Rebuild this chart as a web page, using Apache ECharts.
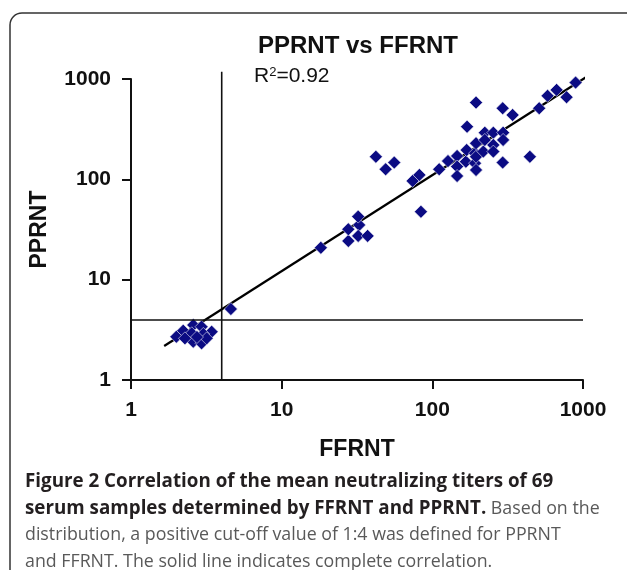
<!DOCTYPE html>
<html><head><meta charset="utf-8">
<script src="https://cdn.jsdelivr.net/npm/echarts@6/dist/echarts.min.js"></script>
<style>html,body{margin:0;padding:0;background:#fff}#c{width:627px;height:570px}</style>
</head><body><div id="c"></div>
<script>
const chartTitle = 'PPRNT vs FFRNT';
const xName = 'FFRNT';
const yName = 'PPRNT';
const r2Text = '0.92';
const cutoff = 4;
const cutoffLineTop = 1180;
const ffrnt = [2.0,2.22,2.59,2.53,2.94,3.43,3.02,2.59,2.94,3.18,2.28,2.74,4.6,
  18.2,27.7,27.7,32.7,32.2,32.2,37.2,42.2,49,55.9,74,82,84,
  111,127,146,146,146,167,169,170,192,192,195,195,195,195,218,223,223,254,254,254,295,295,293,341,293,444,512,582,668,778,893];
const pprnt = [2.7,3.1,3.53,2.92,3.4,3.03,2.88,2.41,2.32,2.6,2.6,2.68,5.1,
  20.8,24.3,31.8,35.1,42.5,27.3,27.3,168,126,147,96.4,110.7,47.6,
  126,152,171,134,108,150,196,335,182,145,229,124,168,582,189,292,247,292,220,189,292,247,147,438,511,168,511,679,779,659,921];
const fitX = [1.66, 1110];
const fitY = [2.18, 1100];
const captionLines = [
  [['b','Figure 2 Correlation of the mean neutralizing titers of 69']],
  [['b','serum samples determined by FFRNT and PPRNT.'],['r',' Based on the']],
  [['r','distribution, a positive cut-off value of 1:4 was defined for PPRNT']],
  [['r','and FFRNT. The solid line indicates complete correlation.']]
];

const pts = ffrnt.map((x,i)=>[x,pprnt[i]]);
const fit = fitX.map((x,i)=>[x,fitY[i]]);
const axisFont = {fontFamily:'Liberation Sans, Arial, sans-serif', fontWeight:'bold', fontSize:21, color:'#111'};
const esc = s => s.replace(/[{}|]/g,'');
const captionGraphics = captionLines.map((parts,i)=>({
  type:'text', left:25, top:472 + i*27,
  style:{
    text: parts.map(p=>'{'+p[0]+'|'+esc(p[1])+'}').join(''),
    rich:{
      b:{fontFamily:'Open Sans, sans-serif', fontWeight:'bold', fontSize:18.8, fill:'#231f20', color:'#231f20'},
      r:{fontFamily:'Open Sans, sans-serif', fontWeight:'normal', fontSize:17.8, fill:'#595959', color:'#595959'}
    }
  }
}));

const chart = echarts.init(document.getElementById('c'));
chart.setOption({
  animation:false,
  backgroundColor:'#fff',
  title:[
    {text:chartTitle, left:353, top:29, textAlign:'center',
     textStyle:{fontFamily:'Liberation Sans, Arial, sans-serif', fontWeight:'bold', fontSize:24, color:'#111'}},
    {text:'R{s|2}=' + r2Text, left:249, top:61,
     textStyle:{fontFamily:'Liberation Sans, Arial, sans-serif', fontWeight:'normal', fontSize:21, color:'#111',
       rich:{s:{fontSize:13, verticalAlign:'top', lineHeight:13, padding:[0,0,11,0], fontFamily:'Liberation Sans, Arial, sans-serif'}}}}
  ],
  graphic:[
    {type:'rect', shape:{x:10, y:13, width:700, height:700, r:12}, style:{fill:'none', stroke:'#333', lineWidth:1.5}, z:-1}
  ].concat(captionGraphics),
  grid:{left:131, right:44, top:79, bottom:190},
  xAxis:{type:'log', logBase:10, min:1, max:1000,
    name:xName, nameLocation:'middle', nameGap:58, nameTextStyle:Object.assign({}, axisFont, {fontSize:23}),
    axisLine:{lineStyle:{color:'#111', width:2}},
    axisTick:{show:true, length:9, lineStyle:{color:'#111', width:2}},
    minorTick:{show:false}, splitLine:{show:false},
    axisLabel:Object.assign({margin:20, formatter:v=>String(v)}, axisFont)},
  yAxis:{type:'log', logBase:10, min:1, max:1000,
    name:yName, nameLocation:'middle', nameGap:80, nameRotate:90, nameTextStyle:Object.assign({}, axisFont, {fontSize:23}),
    axisLine:{lineStyle:{color:'#111', width:2}},
    axisTick:{show:true, length:9, lineStyle:{color:'#111', width:2}},
    minorTick:{show:false}, splitLine:{show:false},
    axisLabel:Object.assign({margin:20, formatter:v=>String(v)}, axisFont)},
  series:[
    {type:'line', data:fit, clip:false, symbol:'none', lineStyle:{color:'#000', width:2.2}, z:3,
     markLine:{silent:true, symbol:'none', label:{show:false}, lineStyle:{color:'#111', width:1.6, type:'solid'},
       data:[{yAxis:cutoff}]}},
    {type:'line', data:[[cutoff,1],[cutoff,cutoffLineTop]], clip:false, symbol:'none', lineStyle:{color:'#111', width:1.6}, z:2},
    {type:'scatter', data:pts, symbol:'diamond', symbolSize:[13,13], z:4,
     itemStyle:{color:'#0b0b83', borderColor:'#e8e8f4', borderWidth:0.6, opacity:1}}
  ]
});
</script></body></html>
